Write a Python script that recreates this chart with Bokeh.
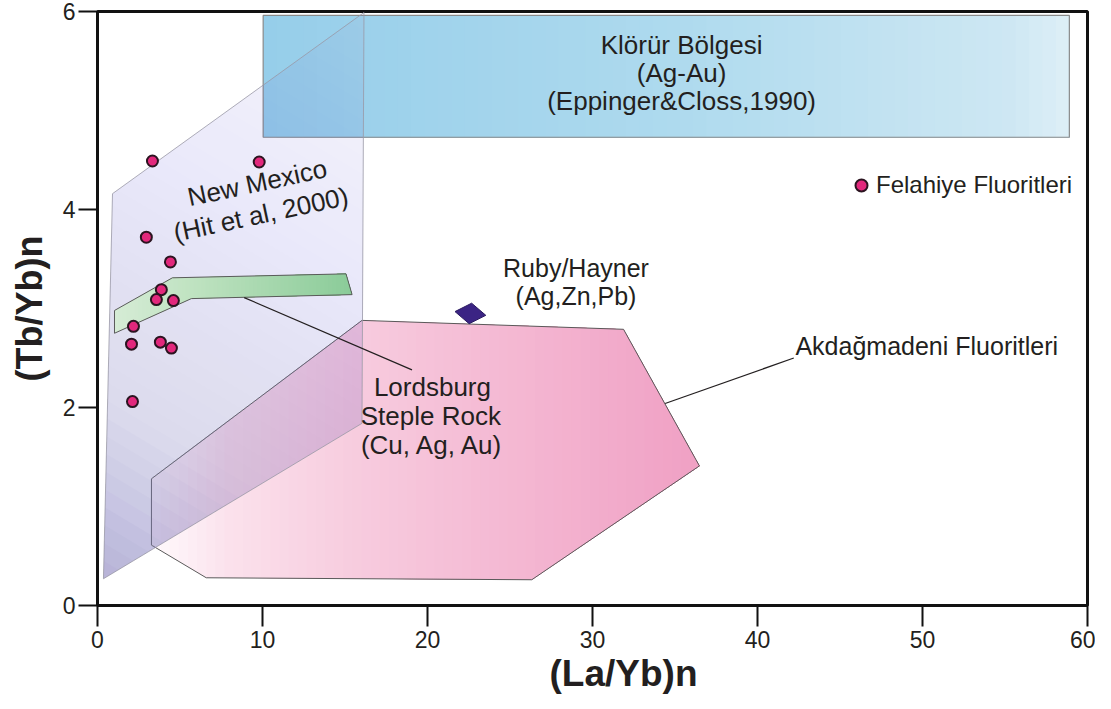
from bokeh.plotting import figure
from bokeh.models import Label, Legend, LegendItem, FixedTicker, ColumnDataSource, Title
from bokeh.embed import file_html
from bokeh.resources import INLINE

# ---------------- data ----------------
felahiye_x = [3.33, 9.80, 2.96, 4.42, 3.87, 3.57, 4.60, 2.18, 2.06, 3.81, 4.48, 2.12]
felahiye_y = [4.49, 4.48, 3.72, 3.47, 3.19, 3.09, 3.08, 2.82, 2.64, 2.66, 2.60, 2.06]

ruby_x = [22.6]
ruby_y = [2.95]

klorur_x = [10.04, 58.9, 58.9, 10.04]
klorur_y = [5.96, 5.96, 4.73, 4.73]

newmexico_x = [0.36, 0.91, 16.15, 16.03]
newmexico_y = [0.27, 4.16, 5.99, 1.84]

lordsburg_x = [1.03, 4.54, 15.06, 15.43, 5.69, 1.03]
lordsburg_y = [2.98, 3.31, 3.35, 3.14, 3.10, 2.75]

akdag_x = [16.03, 31.88, 36.48, 26.32, 6.59, 3.27, 3.27]
akdag_y = [2.88, 2.79, 1.41, 0.26, 0.28, 0.61, 1.28]

lordsburg_leader_x = [8.89, 19.06]
lordsburg_leader_y = [3.11, 2.38]
akdag_leader_x = [34.4, 42.2]
akdag_leader_y = [2.04, 2.50]

x_ticks = [0, 10, 20, 30, 40, 50, 60]
y_ticks = [0, 2, 4, 6]
x_title = "(La/Yb)n"
y_title = "(Tb/Yb)n"

FONT = "Liberation Sans"
TXT = "#231f20"


# ---------------- helpers (geometry for gradient fills) ----------------
def clip_ge(poly, f, c):
    """Keep the part of polygon where f(P) >= c (Sutherland-Hodgman)."""
    out = []
    n = len(poly)
    for i in range(n):
        P, Q = poly[i], poly[(i + 1) % n]
        fp, fq = f(P) - c, f(Q) - c
        if fp >= 0:
            out.append(P)
        if (fp >= 0) != (fq >= 0):
            t = fp / (fp - fq)
            out.append((P[0] + t * (Q[0] - P[0]), P[1] + t * (Q[1] - P[1])))
    return out


def clip_le(poly, f, c):
    return clip_ge(poly, lambda P: -f(P), -c)


def interp(stops, t):
    if t <= stops[0][0]:
        return stops[0][1]
    for (t0, c0), (t1, c1) in zip(stops[:-1], stops[1:]):
        if t <= t1:
            u = (t - t0) / (t1 - t0)
            if isinstance(c0, tuple):
                return tuple(a + u * (b - a) for a, b in zip(c0, c1))
            return c0 + u * (c1 - c0)
    return stops[-1][1]


def hexc(c):
    return "#%02x%02x%02x" % tuple(int(round(v)) for v in c)


def gradient_layers(xs, ys, f, stops, n=60):
    poly = list(zip(xs, ys))
    ts = [f(P) for P in poly]
    t0, t1 = min(ts), max(ts)
    lx, ly, cols = [], [], []
    for k in range(n):
        tk = t0 + (t1 - t0) * k / n
        part = clip_ge(poly, f, tk) if k > 0 else poly
        if len(part) < 3:
            continue
        tm = t0 + (t1 - t0) * (k + 0.5) / n
        lx.append([p[0] for p in part])
        ly.append([p[1] for p in part])
        cols.append(hexc(interp(stops, tm)))
    return lx, ly, cols


def alpha_layers(xs, ys, f, astops, n=40):
    """Cumulative translucent layers (poly ∩ f<=t_k) giving alpha decreasing with f."""
    poly = list(zip(xs, ys))
    ts = [f(P) for P in poly]
    t0, t1 = min(ts), max(ts)
    edges = [t0 + (t1 - t0) * (j + 1) / n for j in range(n)]
    T = [1 - interp(astops, t0 + (t1 - t0) * (j + 0.5) / n) for j in range(n)]
    lx, ly, al = [], [], []
    for j in range(n):
        Tnext = T[j + 1] if j + 1 < n else 1.0
        a = 1 - T[j] / Tnext
        part = clip_le(poly, f, edges[j]) if j < n - 1 else poly
        if len(part) < 3 or a <= 0:
            continue
        lx.append([p[0] for p in part])
        ly.append([p[1] for p in part])
        al.append(a)
    return lx, ly, al


# ---------------- figure ----------------
p = figure(width=1095, height=700, x_range=(0, 60), y_range=(0, 6),
           output_backend="svg", toolbar_location=None,
           min_border_left=97, min_border_right=8, min_border_top=11, min_border_bottom=95)
p.grid.visible = False
p.outline_line_color = "#111111"
p.outline_line_width = 3
p.background_fill_color = "white"

for ax in (p.xaxis[0], p.yaxis[0]):
    ax.axis_line_width = 3
    ax.axis_line_color = "#111111"
    ax.major_tick_line_width = 2
    ax.major_tick_line_color = "#111111"
    ax.major_tick_in = 0
    ax.minor_tick_line_color = None
    ax.major_label_text_font = FONT
    ax.major_label_text_font_size = "23px"
    ax.major_label_text_color = TXT
    ax.axis_label_text_font = FONT
    ax.axis_label_text_font_style = "bold"
    ax.axis_label_text_font_size = "36px"
    ax.axis_label_text_color = TXT

p.xaxis.ticker = FixedTicker(ticks=x_ticks)
p.yaxis.ticker = FixedTicker(ticks=y_ticks)
p.xaxis.major_tick_out = 21
p.yaxis.major_tick_out = 19
p.xaxis.major_label_standoff = 4
p.yaxis.major_label_standoff = 3
p.yaxis.axis_label = y_title
p.yaxis.axis_label_standoff = 10

# x-axis title: placed right of the frame centre as in the original
p.add_layout(Title(text=x_title, align="left", offset=452, vertical_align="bottom",
                   standoff=0, text_font=FONT, text_font_size="37px",
                   text_font_style="bold", text_color=TXT), "below")

fx = lambda P: P[0]

# Klörür Bölgesi (blue box)
bx, by, bc = gradient_layers(klorur_x, klorur_y, fx,
                             [(10.0, (150, 206, 234)), (35.0, (174, 218, 238)),
                              (55.0, (205, 231, 243)), (59.0, (222, 239, 247))])
p.patches(bx, by, fill_color=bc, line_color=None)
p.patch(klorur_x, klorur_y, fill_color=None, line_color="#8a8a8a", line_width=1.2)

# Akdağmadeni (pink)
kx, ky, kc = gradient_layers(akdag_x, akdag_y, fx,
                             [(3.3, (255, 250, 252)), (8.0, (251, 225, 236)),
                              (16.0, (247, 203, 222)), (36.5, (240, 160, 196))])
p.patches(kx, ky, fill_color=kc, line_color=None)
p.patch(akdag_x, akdag_y, fill_color=None, line_color="#5a5a5a", line_width=1)

# New Mexico (lavender, translucent)
fd = lambda P: P[0] / 60.0 + P[1] / 6.0
nx, ny, na = alpha_layers(newmexico_x, newmexico_y, fd,
                          [(0.05, 0.56), (0.35, 0.31), (0.8, 0.18), (1.27, 0.08)], n=40)
src_nm = ColumnDataSource(dict(xs=nx, ys=ny, a=na))
p.patches("xs", "ys", source=src_nm, fill_color="#9b8ec6", fill_alpha="a", line_color=None)
p.patch(newmexico_x, newmexico_y, fill_color=None, line_color="#9a98a6", line_width=1, line_alpha=0.8)

# Lordsburg (green)
gx, gy, gc = gradient_layers(lordsburg_x, lordsburg_y, fx,
                             [(1.0, (214, 236, 214)), (6.0, (190, 226, 192)),
                              (15.5, (138, 203, 152))])
p.patches(gx, gy, fill_color=gc, line_color=None)
p.patch(lordsburg_x, lordsburg_y, fill_color=None, line_color="#5a5a5a", line_width=1)

# leader lines
p.line(lordsburg_leader_x, lordsburg_leader_y, line_color="#231f20", line_width=1.2)
p.line(akdag_leader_x, akdag_leader_y, line_color="#231f20", line_width=1.2)

# Ruby/Hayner
p.scatter(ruby_x, ruby_y, marker="diamond", size=31, angle=1.45,
          fill_color="#3b2484", line_color="#2a1a60", line_width=1)

# Felahiye points
pts = p.scatter(felahiye_x, felahiye_y, marker="circle", size=11,
                fill_color="#e2287c", line_color="#2b1420", line_width=2)

# labels
def lab(x, y, t, size="26px", align="center", angle=0):
    p.add_layout(Label(x=x, y=y, text=t, text_align=align, text_baseline="middle",
                       text_font=FONT, text_font_size=size, text_color=TXT,
                       angle=angle, angle_units="deg"))

lab(35.4, 5.66, "Klörür Bölgesi")
lab(35.4, 5.38, "(Ag-Au)")
lab(35.4, 5.10, "(Eppinger&Closs,1990)")
lab(9.68, 4.27, "New Mexico", angle=12)
lab(9.90, 3.95, "(Hit et al, 2000)", angle=12)
lab(29.0, 3.41, "Ruby/Hayner", size="25px")
lab(29.0, 3.13, "(Ag,Zn,Pb)", size="25px")
lab(20.3, 2.21, "Lordsburg")
lab(20.2, 1.91, "Steple Rock")
lab(20.3, 1.62, "(Cu, Ag, Au)")
lab(42.3, 2.62, "Akdağmadeni Fluoritleri", size="25px", align="left")

legend = Legend(items=[LegendItem(label="Felahiye Fluoritleri", renderers=[pts])],
                location=(749, 405), orientation="vertical",
                glyph_width=30, glyph_height=30, label_standoff=0,
                padding=0, margin=0, spacing=0,
                border_line_color=None, background_fill_alpha=0,
                label_text_font=FONT, label_text_font_size="24px",
                label_text_color=TXT)
p.add_layout(legend)

open("out.html", "w").write(file_html(p, INLINE))
